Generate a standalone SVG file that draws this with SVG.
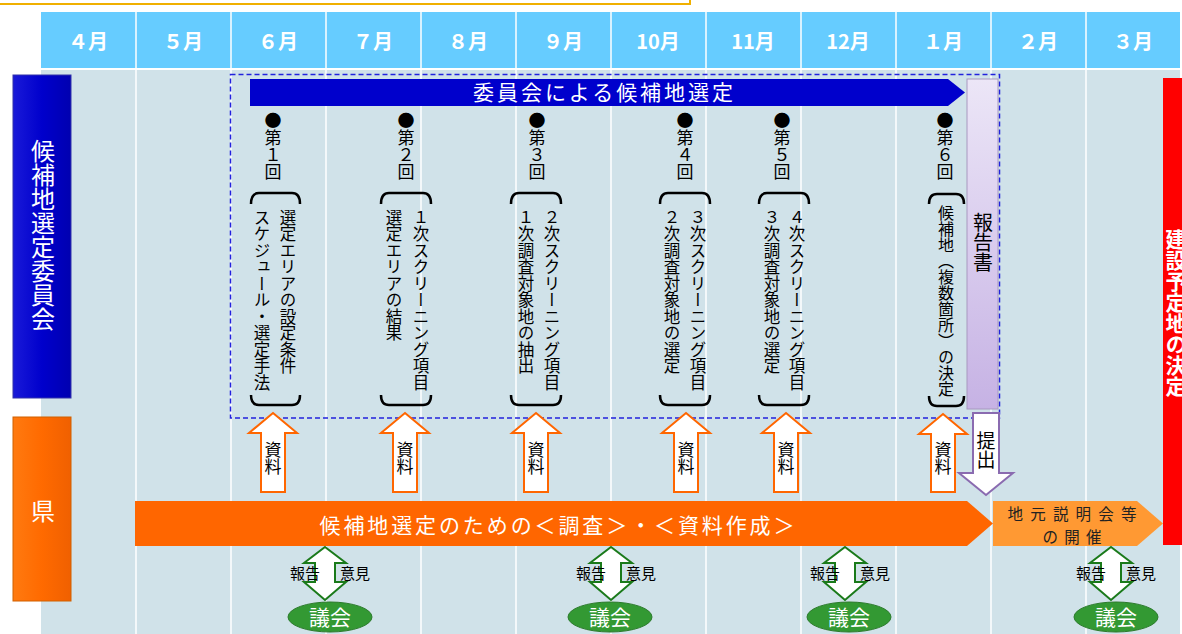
<svg xmlns="http://www.w3.org/2000/svg" width="1182" height="634" viewBox="0 0 1182 634">
<defs>
<linearGradient id="rep" x1="0" y1="0" x2="0" y2="1"><stop offset="0" stop-color="#ece6f7"/><stop offset="1" stop-color="#c6b2e4"/></linearGradient>
<linearGradient id="blu" x1="0" y1="0" x2="1" y2="0"><stop offset="0" stop-color="#1a1ad8"/><stop offset="0.5" stop-color="#0000cc"/><stop offset="1" stop-color="#0000b0"/></linearGradient>
<linearGradient id="org" x1="0" y1="0" x2="1" y2="0"><stop offset="0" stop-color="#ff7a10"/><stop offset="0.5" stop-color="#ff6a00"/><stop offset="1" stop-color="#f06000"/></linearGradient>
</defs>
<style>
text{font-family:"Noto Sans CJK JP","Noto Sans",sans-serif;}
.hd{font-size:20px;font-weight:bold;fill:#fff;text-anchor:middle;}
.v{writing-mode:vertical-rl;font-size:16.5px;fill:#000;}
.vn{writing-mode:vertical-rl;font-size:17px;fill:#000;}
.br{fill:none;stroke:#000;stroke-width:2.5;}
.res{fill:#fff;stroke:#ff6600;stroke-width:2;}
.dbl{fill:#fff;stroke:#1a7a1a;stroke-width:2;}
.lbl{font-size:15px;fill:#000;text-anchor:middle;}
.gk{fill:#339933;stroke:#2a7a2a;stroke-width:1;}
.gkt{font-size:21px;fill:#fff;text-anchor:middle;}
.sep{stroke:#fff;stroke-width:1.5;}
</style>
<rect x="-5" y="-10" width="695" height="14" fill="#fff" stroke="#f0b000" stroke-width="2"/>
<g id="grid">
<rect x="41" y="12" width="1139" height="56" fill="#66ccff"/>
<rect x="41" y="70" width="1139" height="564" fill="#d0e2e9"/>
<g class="sep">
<line x1="136" y1="12" x2="136" y2="634"/><line x1="231" y1="12" x2="231" y2="634"/><line x1="326" y1="12" x2="326" y2="634"/><line x1="421" y1="12" x2="421" y2="634"/><line x1="516" y1="12" x2="516" y2="634"/><line x1="611" y1="12" x2="611" y2="634"/><line x1="706" y1="12" x2="706" y2="634"/><line x1="801" y1="12" x2="801" y2="634"/><line x1="896" y1="12" x2="896" y2="634"/><line x1="991" y1="12" x2="991" y2="634"/><line x1="1086" y1="12" x2="1086" y2="634"/>
</g>
<text class="hd" x="88" y="49">４月</text><text class="hd" x="183" y="49">５月</text><text class="hd" x="278" y="49">６月</text><text class="hd" x="373" y="49">７月</text><text class="hd" x="468" y="49">８月</text><text class="hd" x="563" y="49">９月</text><text class="hd" x="658" y="49">10月</text><text class="hd" x="753" y="49">11月</text><text class="hd" x="848" y="49">12月</text><text class="hd" x="943" y="49">１月</text><text class="hd" x="1038" y="49">２月</text><text class="hd" x="1133" y="49">３月</text>
</g>
<g id="committee-label">
<rect x="13" y="75" width="58" height="323" fill="url(#blu)" stroke="#3333aa" stroke-width="1"/>
<text x="43" y="139" style="writing-mode:vertical-rl;font-size:24px;fill:#fff;">候補地選定委員会</text>
</g>
<g id="pref-label">
<rect x="13" y="417" width="58" height="184" fill="url(#org)" stroke="#d06000" stroke-width="1"/>
<text x="43" y="520" style="font-size:24px;fill:#fff;text-anchor:middle;">県</text>
</g>
<g id="committee-box">
<rect x="230.5" y="74.5" width="769" height="343.5" fill="none" stroke="#2222dd" stroke-width="1.5" stroke-dasharray="5,3"/>
<polygon points="250,79 948,79 965,92.5 948,106 250,106" fill="#0000cc"/>
<text x="603" y="100" textLength="260" style="font-size:21px;fill:#fff;text-anchor:middle;">委員会による候補地選定</text>
</g>
<g id="session1">
<text class="vn" x="273" y="112">●第１回</text>
<path class="br" d="M251,204 Q251,193 259,193 L292,193 Q300,193 300,204"/>
<path class="br" d="M251,395 Q251,405 259,405 L292,405 Q300,405 300,395"/>
<text class="v" x="288" y="209">選定エリアの設定条件</text>
<text class="v" x="262" y="209">スケジュール・選定手法</text>
</g>
<g id="session2">
<text class="vn" x="406" y="112">●第２回</text>
<path class="br" d="M381,204 Q381,193 389,193 L423,193 Q431,193 431,204"/>
<path class="br" d="M381,395 Q381,405 389,405 L423,405 Q431,405 431,395"/>
<text class="v" x="421" y="209">１次スクリーニング項目</text>
<text class="v" x="394" y="209">選定エリアの結果</text>
</g>
<g id="session3">
<text class="vn" x="537" y="112">●第３回</text>
<path class="br" d="M511,204 Q511,193 519,193 L553,193 Q561,193 561,204"/>
<path class="br" d="M511,395 Q511,405 519,405 L553,405 Q561,405 561,395"/>
<text class="v" x="552" y="209">２次スクリーニング項目</text>
<text class="v" x="526" y="209">１次調査対象地の抽出</text>
</g>
<g id="session4">
<text class="vn" x="685" y="112">●第４回</text>
<path class="br" d="M660,204 Q660,193 668,193 L702,193 Q710,193 710,204"/>
<path class="br" d="M660,395 Q660,405 668,405 L702,405 Q710,405 710,395"/>
<text class="v" x="698" y="209">３次スクリーニング項目</text>
<text class="v" x="672" y="209">２次調査対象地の選定</text>
</g>
<g id="session5">
<text class="vn" x="782" y="112">●第５回</text>
<path class="br" d="M759,204 Q759,193 767,193 L801,193 Q809,193 809,204"/>
<path class="br" d="M759,395 Q759,405 767,405 L801,405 Q809,405 809,395"/>
<text class="v" x="797" y="209">４次スクリーニング項目</text>
<text class="v" x="772" y="209">３次調査対象地の選定</text>
</g>
<g id="session6">
<text class="vn" x="945" y="112">●第６回</text>
<path class="br" d="M929,204 Q929,194 937,194 L956,194 Q964,194 964,204"/>
<path class="br" d="M929,396 Q929,406 937,406 L956,406 Q964,406 964,396"/>
<text class="v" x="946" y="205" style="font-size:16px;">候補地（複数箇所）の決定</text>
</g>
<g id="report">
<rect x="967" y="79" width="31" height="330" fill="url(#rep)" stroke="#a898c0" stroke-width="1"/>
<text x="983" y="212" style="writing-mode:vertical-rl;font-size:20px;fill:#000;">報告書</text>
</g>
<g id="decision">
<rect x="1163" y="78" width="25" height="467" fill="#ff0000"/>
<text x="1176" y="229" style="writing-mode:vertical-rl;font-size:21px;font-weight:bold;fill:#fff;">建設予定地の決定</text>
</g>
<g id="survey-bar">
<polygon points="135,501 967,501 993,523.5 967,546 135,546" fill="#ff6600"/>
<text x="557" y="533" textLength="475" style="font-size:21px;fill:#fff;text-anchor:middle;">候補地選定のための＜調査＞・＜資料作成＞</text>
</g>
<g id="briefing">
<polygon points="993,501 1137,501 1163,523.5 1137,546 993,546" fill="#ff9933"/>
<text x="1072" y="519.5" textLength="129" style="font-size:15.5px;fill:#222;text-anchor:middle;">地元説明会等</text>
<text x="1072" y="542.5" textLength="59" style="font-size:15.5px;fill:#222;text-anchor:middle;">の開催</text>
</g>
<g id="assembly1"><ellipse class="gk" cx="330" cy="617" rx="42" ry="15"/><text class="gkt" x="330" y="625">議会</text></g>
<g id="assembly2"><ellipse class="gk" cx="610" cy="617" rx="42" ry="15"/><text class="gkt" x="610" y="625">議会</text></g>
<g id="assembly3"><ellipse class="gk" cx="849" cy="617" rx="42" ry="15"/><text class="gkt" x="849" y="625">議会</text></g>
<g id="assembly4"><ellipse class="gk" cx="1116" cy="617" rx="42" ry="15"/><text class="gkt" x="1116" y="625">議会</text></g>
<g id="connectors">
<polygon class="res" points="273,413 297,433 285,433 285,492 261,492 261,433 249,433"/>
<polygon class="res" points="405,413 429,433 417,433 417,492 393,492 393,433 381,433"/>
<polygon class="res" points="536,413 560,433 548,433 548,492 524,492 524,433 512,433"/>
<polygon class="res" points="686,413 710,433 698,433 698,492 674,492 674,433 662,433"/>
<polygon class="res" points="786,413 810,433 798,433 798,492 774,492 774,433 762,433"/>
<polygon class="res" points="943,414 967,434 955,434 955,492 931,492 931,434 919,434"/>
<g style="writing-mode:vertical-rl;font-size:17px;fill:#000;">
<text x="273" y="441">資料</text><text x="405" y="441">資料</text><text x="536" y="441">資料</text><text x="686" y="441">資料</text><text x="786" y="441">資料</text><text x="943" y="441">資料</text>
</g>
<polygon points="973,413 999,413 999,473 1013,473 986,495 959,473 973,473" fill="#fff" stroke="#8a6bb0" stroke-width="2"/>
<text x="986" y="431" style="writing-mode:vertical-rl;font-size:19px;fill:#000;">提出</text>
<polygon class="dbl" points="325,547 346,563 335,563 335,582 346,582 325,600 304,582 315,582 315,563 304,563"/>
<polygon class="dbl" points="611,547 632,563 621,563 621,582 632,582 611,600 590,582 601,582 601,563 590,563"/>
<polygon class="dbl" points="845,547 866,563 855,563 855,582 866,582 845,600 824,582 835,582 835,563 824,563"/>
<polygon class="dbl" points="1111,547 1132,563 1121,563 1121,582 1132,582 1111,600 1090,582 1101,582 1101,563 1090,563"/>
<text class="lbl" x="305" y="579">報告</text><text class="lbl" x="355" y="579">意見</text>
<text class="lbl" x="591" y="579">報告</text><text class="lbl" x="641" y="579">意見</text>
<text class="lbl" x="825" y="579">報告</text><text class="lbl" x="875" y="579">意見</text>
<text class="lbl" x="1091" y="579">報告</text><text class="lbl" x="1141" y="579">意見</text>
</g>
</svg>
